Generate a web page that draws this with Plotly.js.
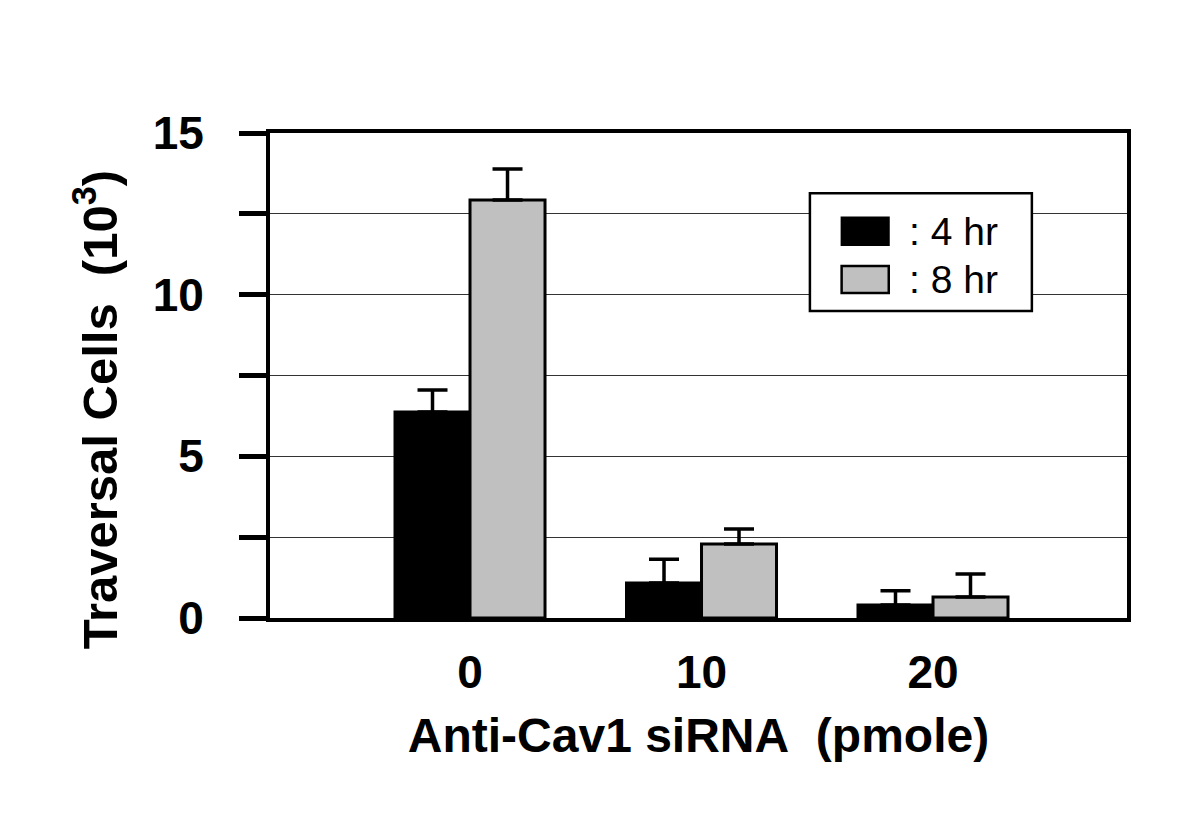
<!DOCTYPE html>
<html>
<head>
<meta charset="utf-8">
<script src="https://cdn.plot.ly/plotly-3.0.1.min.js"></script>
<style>html,body{margin:0;padding:0;background:#fff;}#chart{width:1200px;height:824px;}</style>
</head>
<body>
<div id="chart"></div>
<script>
// Data
const categories = [0, 1, 2];
const categoryLabels = ['0', '10', '20'];
const seriesNames = [': 4 hr', ': 8 hr'];
const values4hr = [6.37, 1.08, 0.40];
const errTop4hr = [7.05, 1.82, 0.84];
const values8hr = [12.93, 2.29, 0.65];
const errTop8hr = [13.89, 2.75, 1.36];
const yMajorTicks = [0, 5, 10, 15];
const yMajorLabels = ['0', '5', '10', '15'];
const yMinorTicks = [2.5, 7.5, 12.5];
const xTitle = 'Anti-Cav1 siRNA\u00a0 (pmole)';
const yTitle = 'Traversal Cells\u00a0 (10<sup>3</sup>)';

const FONT = 'Liberation Sans, Arial, sans-serif';

function errPlus(tops, vals) { return tops.map((t, i) => t - vals[i]); }
function zeros(a) { return a.map(() => 0); }

const traces = [
  {
    type: 'bar', name: seriesNames[0], x: categories, y: values4hr,
    marker: {color: '#000000', line: {color: '#000000', width: 3}},
    error_y: {type: 'data', symmetric: false, array: errPlus(errTop4hr, values4hr), arrayminus: zeros(values4hr),
              color: '#000000', thickness: 3.5, width: 15},
    showlegend: false, hoverinfo: 'none'
  },
  {
    type: 'bar', name: seriesNames[1], x: categories, y: values8hr,
    marker: {color: '#c0c0c0', line: {color: '#000000', width: 3}},
    error_y: {type: 'data', symmetric: false, array: errPlus(errTop8hr, values8hr), arrayminus: zeros(values8hr),
              color: '#000000', thickness: 3.5, width: 15},
    showlegend: false, hoverinfo: 'none'
  }
];

// custom legend box (paper coordinates)
const shapes = [
  {type: 'rect', xref: 'paper', yref: 'paper', x0: 0.630, x1: 0.889, y0: 0.633, y1: 0.876,
   fillcolor: '#ffffff', line: {color: '#000000', width: 2.5}, layer: 'above'},
  {type: 'rect', xref: 'paper', yref: 'paper', x0: 0.667, x1: 0.722, y0: 0.769, y1: 0.826,
   fillcolor: '#000000', line: {color: '#000000', width: 2}, layer: 'above'},
  {type: 'rect', xref: 'paper', yref: 'paper', x0: 0.667, x1: 0.722, y0: 0.670, y1: 0.726,
   fillcolor: '#c0c0c0', line: {color: '#000000', width: 2.5}, layer: 'above'}
];
const annotations = [
  {xref: 'paper', yref: 'paper', x: 0.743, y: 0.797, xanchor: 'left', yanchor: 'middle', showarrow: false,
   text: seriesNames[0], font: {family: FONT, size: 39, color: '#000'}},
  {xref: 'paper', yref: 'paper', x: 0.743, y: 0.698, xanchor: 'left', yanchor: 'middle', showarrow: false,
   text: seriesNames[1], font: {family: FONT, size: 39, color: '#000'}},
  {xref: 'paper', yref: 'paper', x: -0.202, y: 0.43, xanchor: 'center', yanchor: 'middle', showarrow: false,
   textangle: -90, text: yTitle, font: {family: FONT, size: 49, color: '#000', weight: 'bold'}}
];

const layout = {
  width: 1200, height: 824,
  margin: {l: 270, r: 73, t: 133, b: 206, pad: 0},
  paper_bgcolor: '#ffffff', plot_bgcolor: '#ffffff',
  barmode: 'group', bargap: 0.352, bargroupgap: 0,
  font: {family: FONT, color: '#000'},
  xaxis: {
    range: [-0.864, 2.838], tickmode: 'array', tickvals: categories, ticktext: categoryLabels,
    ticks: '', showgrid: false, zeroline: false,
    showline: true, linecolor: '#000', linewidth: 4, mirror: true,
    tickfont: {family: FONT, size: 46, color: '#000', weight: 'bold'},
    ticklabelstandoff: 11,
    title: {text: xTitle, font: {family: FONT, size: 48, color: '#000', weight: 'bold'}, standoff: 22},
    automargin: false, fixedrange: true
  },
  yaxis: {
    range: [0, 15], tickmode: 'array', tickvals: yMajorTicks, ticktext: yMajorLabels,
    ticks: 'outside', ticklen: 27, tickwidth: 5, tickcolor: '#000',
    showgrid: true, gridcolor: '#333333', gridwidth: 1.3, zeroline: false,
    minor: {tickmode: 'array', tickvals: yMinorTicks, ticks: 'outside', ticklen: 27, tickwidth: 5, tickcolor: '#000',
            showgrid: true, gridcolor: '#333333', gridwidth: 1.3},
    showline: true, linecolor: '#000', linewidth: 4, mirror: true,
    tickfont: {family: FONT, size: 46, color: '#000', weight: 'bold'},
    ticklabelstandoff: 26,
    automargin: false, fixedrange: true
  },
  shapes: shapes,
  annotations: annotations,
  showlegend: false
};

Plotly.newPlot('chart', traces, layout, {staticPlot: true, displayModeBar: false});
</script>
</body>
</html>
